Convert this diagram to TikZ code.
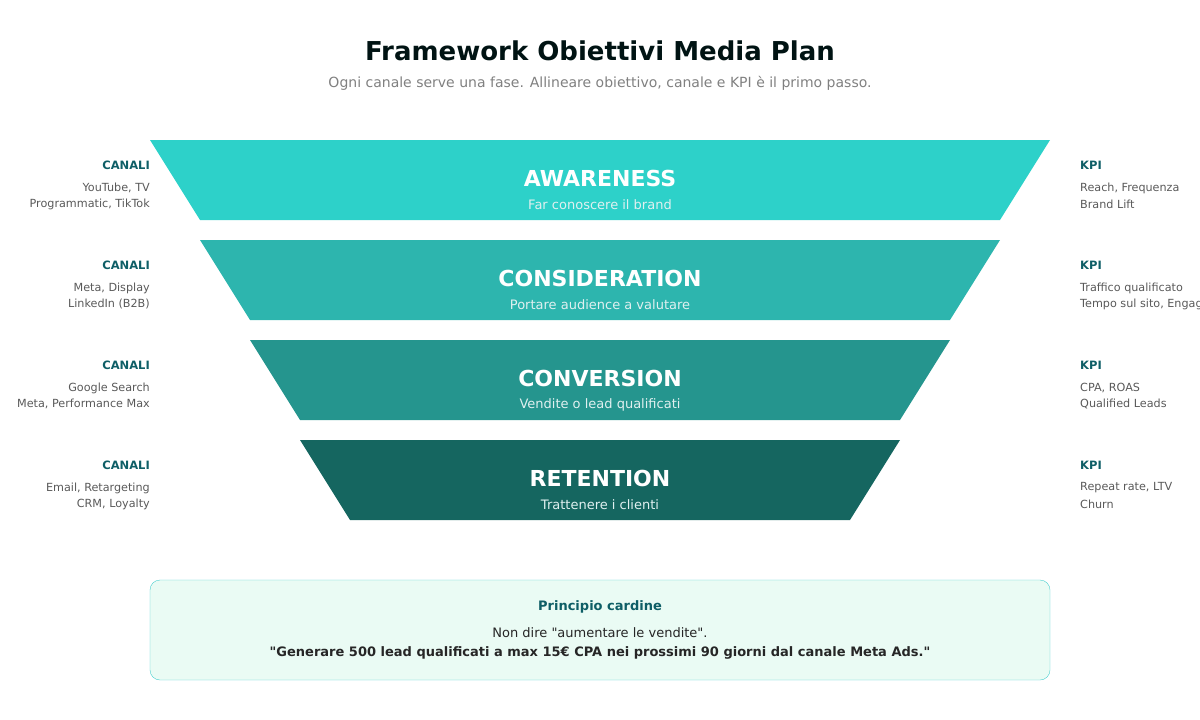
\documentclass[tikz,border=0pt]{standalone}
\usepackage{fontspec}
\setmainfont{DejaVu Sans}
\begin{document}
\begin{tikzpicture}[x=1pt,y=-1pt,
  ttl/.style={font=\fontsize{22}{26}\selectfont\bfseries,text=white},
  sub/.style={font=\fontsize{13}{15}\selectfont,text=white!88!teal},
  hd/.style={font=\fontsize{11.5}{13}\selectfont\bfseries,text=hd},
  ln/.style={font=\fontsize{11.2}{13}\selectfont,text=gray!70!black,align=#1,inner sep=0pt}]
\definecolor{hd}{HTML}{0E5E66}
\definecolor{c1}{HTML}{2DD1C9}
\definecolor{c2}{HTML}{2DB5AE}
\definecolor{c3}{HTML}{25958E}
\definecolor{c4}{HTML}{156660}
\definecolor{bx}{HTML}{EAFBF4}
\definecolor{bd}{HTML}{48CFCF}
\useasboundingbox (0,0) rectangle (1200,720);
\node[font=\fontsize{26}{30}\selectfont\bfseries,text=black!85!teal] (t) at (600,51) {Framework Obiettivi Media Plan};
\node[font=\fontsize{14}{16}\selectfont,text=gray] (s) at (600,83) {Ogni canale serve una fase. Allineare obiettivo, canale e KPI è il primo passo.};
\foreach \i/\c/\T/\S/\la/\lb/\ra/\rb in {
 0/c1/AWARENESS/Far conoscere il brand/{YouTube, TV}/{Programmatic, TikTok}/{Reach, Frequenza}/{Brand Lift},
 1/c2/CONSIDERATION/Portare audience a valutare/{Meta, Display}/{LinkedIn (B2B)}/{Traffico qualificato}/{Tempo sul sito, Engagement},
 2/c3/CONVERSION/Vendite o lead qualificati/{Google Search}/{Meta, Performance Max}/{CPA, ROAS}/{Qualified Leads},
 3/c4/RETENTION/Trattenere i clienti/{Email, Retargeting}/{CRM, Loyalty}/{Repeat rate, LTV}/{Churn}}{
 \pgfmathsetmacro\y{140+100*\i}
 \pgfmathsetmacro\xa{150+50*\i}
 \fill[\c] (\xa,\y) -- (1200-\xa,\y) -- (1150-\xa,\y+80) -- (\xa+50,\y+80) -- cycle;
 \node[ttl] (T\i) at (600,\y+38) {\T};
 \node[sub] (S\i) at (600,\y+65) {\S};
 \node[hd,anchor=east,inner sep=0pt] (L\i) at (150,\y+25) {CANALI};
 \node[ln=right,anchor=east] (La\i) at (150,\y+48) {\la};
 \node[ln=right,anchor=east] (Lb\i) at (150,\y+64) {\lb};
 \node[hd,anchor=west,inner sep=0pt] (R\i) at (1080,\y+25) {KPI};
 \node[ln=left,anchor=west] (Ra\i) at (1080,\y+48) {\ra};
 \node[ln=left,anchor=west] (Rb\i) at (1080,\y+64) {\rb};
}
\draw[draw=bd,fill=bx,rounded corners=10pt] (150,580) rectangle (1050,680);
\node[hd,font=\fontsize{13}{15}\selectfont\bfseries] (p) at (600,607) {Principio cardine};
\node[font=\fontsize{13}{15}\selectfont,text=black!85] (q1) at (600,633) {Non dire \textquotedbl aumentare le vendite\textquotedbl.};
\node[font=\fontsize{13}{15}\selectfont\bfseries,text=black!85] (q2) at (600,653) {\textquotedbl Generare 500 lead qualificati a max 15€ CPA nei prossimi 90 giorni dal canale Meta Ads.\textquotedbl};
\end{tikzpicture}
\end{document}
